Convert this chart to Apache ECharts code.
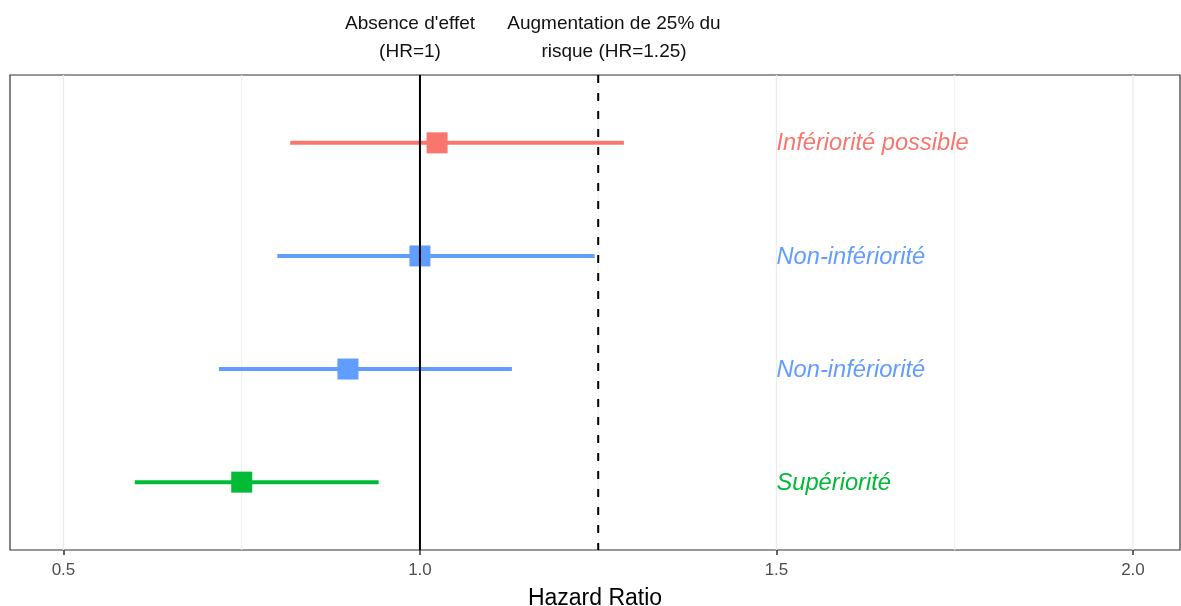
<!DOCTYPE html>
<html>
<head>
<meta charset="utf-8">
<script src="https://cdn.jsdelivr.net/npm/echarts@6/dist/echarts.min.js"></script>
<style>
html,body{margin:0;padding:0;background:#fff;}
#main{width:1181px;height:606px;}
</style>
</head>
<body>
<div id="main"></div>
<script>
// rows from top to bottom
var labels = ['Infériorité possible', 'Non-infériorité', 'Non-infériorité', 'Supériorité'];
var rowPos = [4, 3, 2, 1];
var hr = [1.024, 1.0, 0.899, 0.75];
var lower = [0.818, 0.80, 0.718, 0.60];
var upper = [1.286, 1.245, 1.129, 0.942];
var colors = ['#F8766D', '#619CFF', '#619CFF', '#00BA38'];

var majorBreaks = [0.5, 1.0, 1.5, 2.0];
var minorBreaks = [0.75, 1.25, 1.75];
var refSolid = 1.0;
var refDashed = 1.25;
var labelAt = 1.5;

var font = 'Liberation Sans, Arial, Helvetica, sans-serif';

var chart = echarts.init(document.getElementById('main'));

function vline(width, color, dash) {
  return function (params, api) {
    var cs = params.coordSys;
    var x = api.coord([api.value(0), 0])[0];
    return {
      type: 'line',
      shape: {x1: x, y1: cs.y, x2: x, y2: cs.y + cs.height},
      style: {stroke: color, lineWidth: width, lineDash: dash || null}
    };
  };
}

var forestData = [];
for (var i = 0; i < labels.length; i++) {
  forestData.push([lower[i], upper[i], hr[i], rowPos[i], i]);
}

var option = {
  animation: false,
  grid: {
    left: 10, right: 1, top: 75, bottom: 56,
    outerBoundsMode: 'none', containLabel: false,
    show: true, borderColor: '#333', borderWidth: 1.2, backgroundColor: '#fff'
  },
  xAxis: {
    type: 'value',
    min: 0.425, max: 2.066,
    axisLine: {show: false},
    splitLine: {show: false},
    axisTick: {show: true, customValues: majorBreaks, length: 5, lineStyle: {color: '#333', width: 1.5}},
    axisLabel: {
      customValues: majorBreaks, margin: 12,
      color: '#4d4d4d', fontSize: 17, fontFamily: font,
      formatter: function (v) { return v.toFixed(1); }
    },
    name: 'Hazard Ratio', nameLocation: 'middle', nameGap: 37,
    nameTextStyle: {color: '#000', fontSize: 23, fontFamily: font}
  },
  yAxis: {
    type: 'value', min: 0.4, max: 4.6,
    axisLine: {show: false}, axisTick: {show: false},
    axisLabel: {show: false}, splitLine: {show: false}
  },
  graphic: [
    {type: 'text', x: 410, y: 10, style: {
      text: "Absence d'effet\n(HR=1)", align: 'center', verticalAlign: 'top', fontSize: 19,
      lineHeight: 28, fontFamily: font, fill: '#111'}},
    {type: 'text', x: 614, y: 10, style: {
      text: 'Augmentation de 25% du\nrisque (HR=1.25)', align: 'center', verticalAlign: 'top', fontSize: 19,
      lineHeight: 28, fontFamily: font, fill: '#111'}}
  ],
  series: [
    {type: 'custom', silent: true, z: 1, data: majorBreaks.map(function (v) { return [v]; }),
      renderItem: vline(1.3, '#ebebeb')},
    {type: 'custom', silent: true, z: 1, data: minorBreaks.map(function (v) { return [v]; }),
      renderItem: vline(1, '#efefef')},
    {
      type: 'custom', silent: true, z: 3,
      data: forestData,
      encode: {x: [0, 1, 2], y: 3},
      renderItem: function (params, api) {
        var idx = api.value(4);
        var y = api.value(3);
        var p1 = api.coord([api.value(0), y]);
        var p2 = api.coord([api.value(1), y]);
        var pc = api.coord([api.value(2), y]);
        var pl = api.coord([labelAt, y]);
        var c = colors[idx];
        var s = 21;
        return {
          type: 'group',
          children: [
            {type: 'line', shape: {x1: p1[0], y1: p1[1], x2: p2[0], y2: p2[1]},
              style: {stroke: c, lineWidth: 4}},
            {type: 'rect', shape: {x: pc[0] - s / 2, y: pc[1] - s / 2, width: s, height: s},
              style: {fill: c}},
            {type: 'text', x: pl[0], y: pl[1] + 1, style: {
              text: labels[idx], fill: c, fontSize: 23.7, fontStyle: 'italic',
              fontFamily: font, align: 'left', verticalAlign: 'middle'}}
          ]
        };
      }
    },
    {type: 'custom', silent: true, z: 5, data: [[refSolid]], renderItem: vline(2, '#000')},
    {type: 'custom', silent: true, z: 5, data: [[refDashed]], renderItem: vline(2, '#000', [8, 10])}
  ]
};
chart.setOption(option);
</script>
</body>
</html>
